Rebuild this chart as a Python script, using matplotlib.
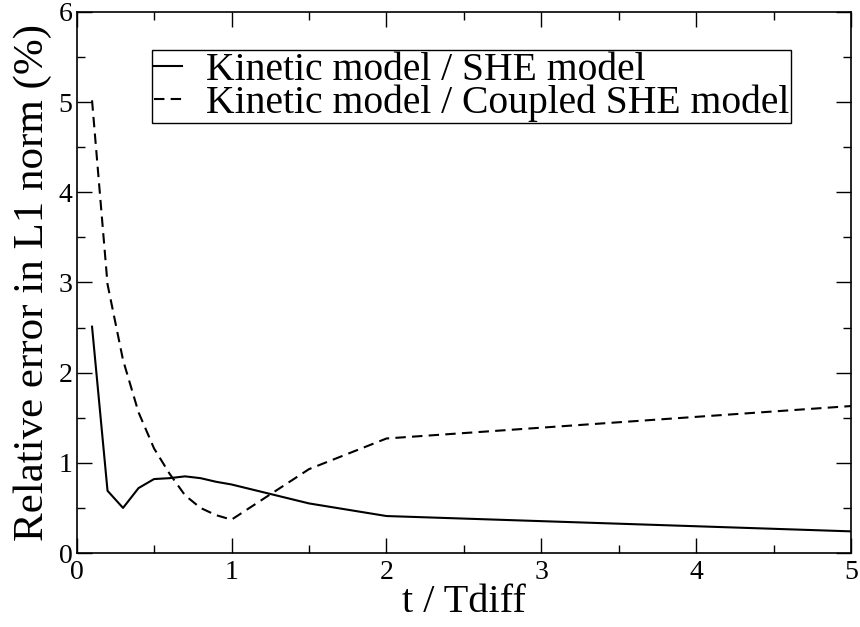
import numpy as np
import matplotlib.pyplot as plt
from matplotlib.ticker import MultipleLocator

plt.rcParams['font.family'] = ['Liberation Serif', 'DejaVu Serif']

# time in units of Tdiff
t = [0.1, 0.2, 0.3, 0.4, 0.5, 0.6, 0.7, 0.8, 0.9, 1.0, 1.5, 2.0, 5.0]
# relative L1 error (%)
err_she = [2.51, 0.69, 0.50, 0.72, 0.82, 0.83, 0.85, 0.83, 0.79, 0.76, 0.55, 0.41, 0.24]
err_coupled = [5.02, 2.98, 2.14, 1.56, 1.16, 0.88, 0.64, 0.50, 0.42, 0.37, 0.93, 1.27, 1.63]

labels = ['Kinetic model / SHE model', 'Kinetic model / Coupled SHE model']

fig = plt.figure(figsize=(8.6, 6.27), dpi=100)
ax = fig.add_axes([0.089, 0.118, 0.901, 0.863])

ax.plot(t, err_she, color='black', lw=1.5, label=labels[0])
ax.plot(t, err_coupled, color='black', lw=1.5, dashes=(5, 3), label=labels[1])

ax.set_xlim(0, 5)
ax.set_ylim(0, 6)
ax.xaxis.set_major_locator(MultipleLocator(1))
ax.xaxis.set_minor_locator(MultipleLocator(0.5))
ax.yaxis.set_major_locator(MultipleLocator(1))
ax.yaxis.set_minor_locator(MultipleLocator(0.5))
ax.tick_params(which='both', direction='in', top=True, right=True, width=1.0)
ax.tick_params(which='major', length=11, labelsize=20)
ax.tick_params(axis='x', which='major', pad=5)
ax.tick_params(axis='y', which='major', pad=3)
ax.tick_params(which='minor', length=6)
for s in ax.spines.values():
    s.set_linewidth(1.2)

ax.set_xlabel('t / Tdiff', fontsize=29, labelpad=-1)
ax.set_ylabel('Relative error in L1 norm (%)', fontsize=31, labelpad=5)

leg = ax.legend(loc='upper left', bbox_to_anchor=(0.098, 0.930), fontsize=28.5,
                handlelength=0.7, handletextpad=0.6, borderpad=0.05,
                labelspacing=-0.12, borderaxespad=0, fancybox=False, framealpha=1)
leg.get_frame().set_edgecolor('black')
leg.get_frame().set_linewidth(1.0)

fig.savefig('out.png', dpi=100)
